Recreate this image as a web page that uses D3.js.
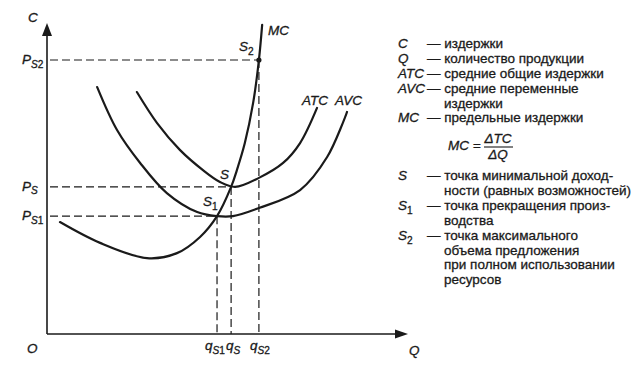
<!DOCTYPE html>
<html>
<head>
<meta charset="utf-8">
<script src="https://cdn.jsdelivr.net/npm/d3@7"></script>
<style>
  html, body { margin: 0; padding: 0; background: #fff; }
  svg { display: block; font-family: "Liberation Sans", Arial, sans-serif; }
  svg text { stroke: #1a1a1a; stroke-width: 0.3px; }
</style>
</head>
<body>
<svg id="chart" width="641" height="365"></svg>
<script>
// curves, [Q, C] in chart units (0..100 on each axis)
const mcCurve = [[3.6, 36.0], [14.7, 29.3], [27.7, 24.4], [36.0, 26.0], [42.4, 31.2], [47.1, 37.9],
  [51.0, 47.3], [52.6, 52.7], [54.8, 61.4], [57.1, 74.3], [58.7, 88.1], [59.6, 99.4]];
const atcCurve = [[24.9, 77.8], [30.5, 67.8], [36.8, 59.2], [43.2, 52.7], [47.9, 48.9], [52.1, 47.3],
  [58.7, 50.2], [65.4, 55.0], [70.1, 61.4], [74.8, 72.7]];
const avcCurve = [[13.9, 79.4], [19.4, 65.6], [25.8, 55.0], [33.2, 45.3], [41.6, 39.2], [47.1, 37.9],
  [51.5, 37.9], [58.7, 40.5], [70.1, 46.3], [77.6, 56.9], [83.1, 71.4]];

// special points S1, S, S2
const pointNames = ["S1", "S", "S2"];
const pointQ = [47.1, 51.0, 58.7];
const pointC = [37.9, 47.3, 88.1];

// legend text
const legendSymbols = ["C", "Q", "ATC", "AVC", "MC", "S", "S1", "S2"];
const legendTexts = [
  ["издержки"],
  ["количество продукции"],
  ["средние общие издержки"],
  ["средние переменные", "издержки"],
  ["предельные издержки"],
  ["точка минимальной доход-", "ности (равных возможностей)"],
  ["точка прекращения произ-", "водства"],
  ["точка максимального", "объема предложения", "при полном использовании", "ресурсов"]
];
const legendBaselines = [48, 63, 78, 93, 122, 180, 210, 240];

const svg = d3.select('#chart');
const ink = '#1a1a1a';

const x = d3.scaleLinear().domain([0, 100]).range([47, 408]);
const y = d3.scaleLinear().domain([0, 100]).range([334, 23]);

// text with an optional subscript; letters of subscript italic, digits upright
function label(g, px, py, main, sub, opts) {
  opts = opts || {};
  const t = g.append('text')
    .attr('x', px).attr('y', py)
    .attr('font-size', opts.size || 13.5)
    .attr('fill', ink)
    .attr('text-anchor', opts.anchor || 'start');
  t.append('tspan').attr('font-style', opts.upright ? 'normal' : 'italic').text(main);
  if (sub) {
    const s = t.append('tspan').attr('font-size', '0.75em').attr('dy', 3.5);
    sub.split('').forEach(ch => {
      s.append('tspan').attr('font-style', /[0-9]/.test(ch) ? 'normal' : 'italic').text(ch);
    });
  }
  return t;
}

const g = svg.append('g');

// dashed guides
const guides = g.append('g')
  .attr('stroke', ink).attr('stroke-width', 1.2).attr('stroke-dasharray', '8,4').attr('fill', 'none');
pointQ.forEach((q, i) => {
  guides.append('line')
    .attr('x1', x(0) + 3).attr('x2', x(q))
    .attr('y1', y(pointC[i])).attr('y2', y(pointC[i]));
  guides.append('line')
    .attr('x1', x(q)).attr('x2', x(q))
    .attr('y1', y(pointC[i])).attr('y2', y(0));
});

// axes
const axes = g.append('g').attr('stroke', ink).attr('stroke-width', 1.6);
axes.append('line').attr('x1', x(0)).attr('x2', x(0)).attr('y1', y(0)).attr('y2', y(100) + 10);
axes.append('line').attr('x1', x(0)).attr('x2', x(100) - 10).attr('y1', y(0)).attr('y2', y(0));
g.append('path')
  .attr('d', `M${x(0)},${y(100)} L${x(0) - 5},${y(100) + 13} L${x(0) + 5},${y(100) + 13} Z`)
  .attr('fill', ink);
g.append('path')
  .attr('d', `M${x(100)},${y(0)} L${x(100) - 13},${y(0) - 4.5} L${x(100) - 13},${y(0) + 4.5} Z`)
  .attr('fill', ink);

// curves
const line = d3.line()
  .x(d => x(d[0]))
  .y(d => y(d[1]))
  .curve(d3.curveCatmullRom.alpha(0.5));

[mcCurve, atcCurve, avcCurve].forEach(c => {
  g.append('path')
    .attr('d', line(c))
    .attr('fill', 'none')
    .attr('stroke', ink)
    .attr('stroke-width', 2.2)
    .attr('stroke-linecap', 'round');
});

// S2 dot
g.append('circle').attr('cx', x(pointQ[2])).attr('cy', y(pointC[2])).attr('r', 2.6).attr('fill', ink);

// axis labels
label(g, 28, 22, 'C');
label(g, 27, 353, 'O');
label(g, 409, 355, 'Q');

// price labels on the C axis
label(g, 22, y(pointC[2]) + 4, 'P', 'S2');
label(g, 22, y(pointC[1]) + 4, 'P', 'S');
label(g, 22, y(pointC[0]) + 4, 'P', 'S1');

// quantity labels on the Q axis
label(g, x(pointQ[0]) - 2, 350, 'q', 'S1', { anchor: 'middle' });
label(g, x(pointQ[1]) + 2, 350, 'q', 'S', { anchor: 'middle' });
label(g, x(pointQ[2]) + 1, 350, 'q', 'S2', { anchor: 'middle' });

// curve names and points
label(g, 268, 35, 'MC');
label(g, 302, 105, 'ATC');
label(g, 335, 105, 'AVC');
label(g, 239, 51, 'S', '2', { anchor: 'start' });
label(g, 220, 179, 'S');
label(g, 203, 206, 'S', '1');

// legend
const leg = svg.append('g');
legendSymbols.forEach((s, i) => {
  const main = s.replace(/[0-9]/g, '');
  const sub = s.replace(/[^0-9]/g, '');
  label(leg, 398, legendBaselines[i], main, sub);
  legendTexts[i].forEach((t, j) => {
    leg.append('text')
      .attr('x', j === 0 ? 427 : 444)
      .attr('y', legendBaselines[i] + j * 14.6)
      .attr('font-size', 13.5)
      .attr('fill', ink)
      .text(j === 0 ? '— ' + t : t);
  });
});

// formula MC = ΔTC / ΔQ
label(leg, 448, 150, 'MC =');
label(leg, 498, 143, 'ΔTC', null, { anchor: 'middle' });
label(leg, 498, 159, 'ΔQ', null, { anchor: 'middle' });
leg.append('line').attr('x1', 484).attr('x2', 513).attr('y1', 147).attr('y2', 147)
  .attr('stroke', ink).attr('stroke-width', 1.1);
</script>
</body>
</html>
